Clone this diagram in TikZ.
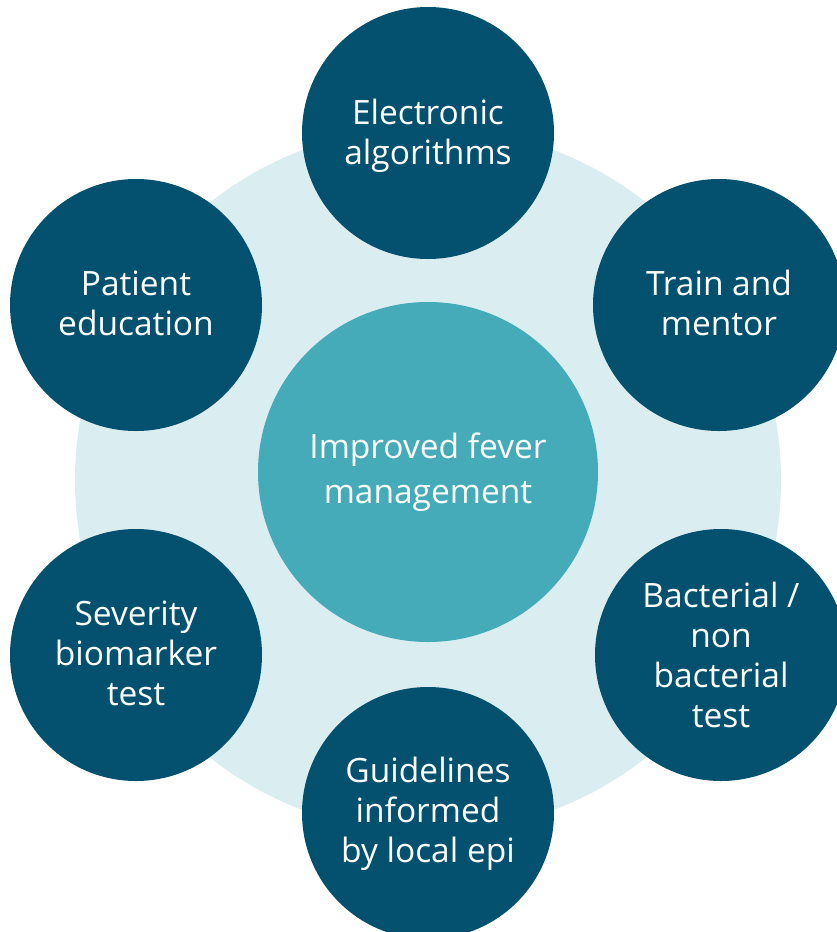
\documentclass[tikz,border=0pt]{standalone}
\usepackage{fontspec}
\setmainfont{Open Sans}
\definecolor{darkteal}{HTML}{03516E}
\definecolor{midteal}{HTML}{45ABB8}
\definecolor{paleteal}{HTML}{DAEEF1}
\begin{document}
\begin{tikzpicture}[x=1pt,y=-1pt,
  outer/.style={circle, fill=darkteal, minimum size=252pt, inner sep=0pt},
  hub/.style={circle, fill=midteal, minimum size=340pt, inner sep=0pt, text=white, align=center,
    font=\fontsize{33.5}{45}\selectfont},
  ring/.style={circle, fill=paleteal, minimum size=706pt, inner sep=0pt},
  lbl/.style={text=white, align=center, font=\fontsize{33.5}{40}\selectfont, inner sep=0pt}]
\useasboundingbox (0,0) rectangle (837,932);
\clip (0,0) rectangle (837,932);
\node[ring] (bg) at (428,480) {};
\node[hub] (center) at (428,472) {Improved fever\\management};
\node[outer] (elec) at (428,133) {};
\node[outer] (train) at (719,305) {};
\node[outer] (bact) at (721,655) {};
\node[outer] (guide) at (428,813) {};
\node[outer] (sev) at (136,655) {};
\node[outer] (pat) at (136,305) {};
\node[lbl] (elect) at ([yshift=-3pt]elec.center) {Electronic\\algorithms};
\node[lbl] (traint) at ([yshift=2pt]train.center) {Train and\\mentor};
\node[lbl] (bactt) at ([yshift=0pt]bact.center) {Bacterial /\\non\\bacterial\\test};
\node[lbl] (guidet) at ([yshift=-1pt]guide.center) {Guidelines\\informed\\by local epi};
\node[lbl] (sevt) at ([yshift=2pt]sev.center) {Severity\\biomarker\\test};
\node[lbl] (patt) at ([yshift=2pt]pat.center) {Patient\\education};
\end{tikzpicture}
\end{document}
